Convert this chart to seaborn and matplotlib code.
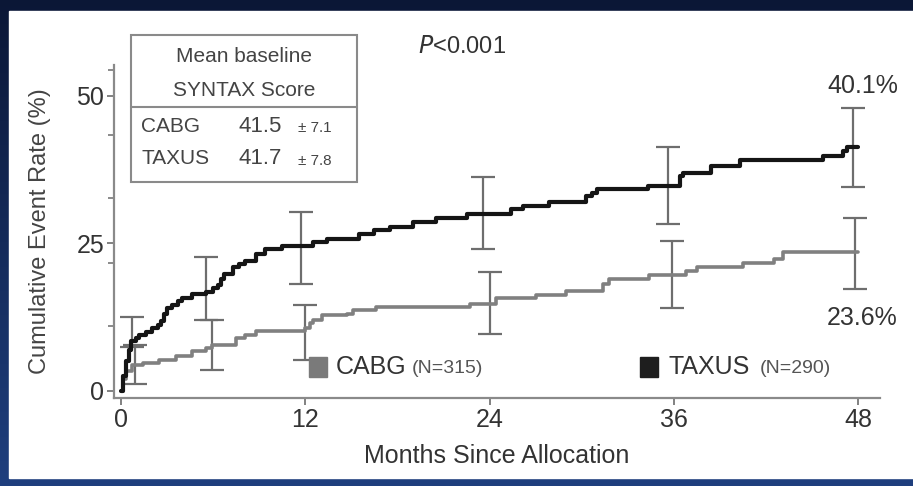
import numpy as np
import pandas as pd
import matplotlib
matplotlib.use("Agg")
import matplotlib.pyplot as plt
from matplotlib.patches import Rectangle
import seaborn as sns

# Kaplan-Meier style step curves (month where the step starts, cumulative event rate %)
taxus_months = [0, 0.15, 0.3, 0.5, 0.65, 1.0, 1.2, 1.6, 2.0, 2.4, 2.6, 2.8, 3.0, 3.3, 3.7,
                4.0, 4.6, 5.5, 6.0, 6.3, 6.5, 6.7, 7.3, 7.7, 8.1, 8.8, 9.4, 10.5, 12.5,
                13.4, 15.5, 16.5, 17.5, 19.0, 20.5, 22.5, 25.4, 26.2, 27.9, 30.3, 30.7,
                31.0, 34.3, 36.4, 36.6, 38.4, 40.3, 45.7, 47.0, 47.3, 48.0]
taxus_rate = [0, 2.5, 5.0, 7.0, 8.4, 9.0, 9.5, 10.0, 10.6, 11.2, 11.8, 13.0, 14.0, 14.6, 15.2,
              15.7, 16.5, 16.8, 17.4, 17.9, 19.0, 19.9, 21.0, 21.5, 22.1, 23.2, 24.1, 24.6, 25.2,
              25.8, 26.6, 27.2, 27.8, 28.6, 29.4, 30.0, 30.8, 31.4, 32.0, 33.1, 33.6,
              34.2, 34.8, 36.4, 37.0, 38.2, 39.2, 39.8, 40.6, 41.3, 41.3]

cabg_months = [0, 0.15, 0.3, 0.7, 1.4, 2.5, 3.6, 4.6, 5.5, 5.9, 7.5, 8.1, 8.8, 12.0, 12.3,
               12.5, 13.1, 14.7, 15.1, 16.6, 22.7, 24.4, 27.0, 29.0, 31.4, 31.8, 34.4,
               36.8, 37.5, 40.5, 42.5, 43.1, 48.0]
cabg_rate = [0, 2.0, 3.4, 4.4, 4.7, 5.3, 5.9, 6.7, 7.2, 7.8, 8.9, 9.5, 10.1, 10.6, 11.5,
             12.0, 12.8, 13.1, 13.7, 14.3, 14.8, 15.8, 16.3, 17.0, 18.2, 19.0, 19.7,
             20.4, 21.0, 21.7, 22.4, 23.5, 23.5]

# confidence bars
taxus_bar_months = [0.7, 5.5, 11.7, 23.6, 35.6, 47.7]
taxus_bar_low = [7.5, 12.0, 18.2, 24.0, 28.3, 34.5]
taxus_bar_high = [12.5, 22.7, 30.3, 36.2, 41.4, 47.9]
cabg_bar_months = [0.9, 5.9, 12.0, 24.0, 35.9, 47.8]
cabg_bar_low = [1.1, 3.5, 5.3, 9.6, 14.1, 17.3]
cabg_bar_high = [7.8, 12.0, 14.5, 20.2, 25.5, 29.3]

x_ticks = [0, 12, 24, 36, 48]
y_ticks = [0, 25, 50]
y_minor = [11, 21.7, 32.7, 43.4, 54.4]

W, H = 913, 486
def fx(x):
    return x / W
def fy(y):
    return 1 - y / H

sns.set_style("ticks")
plt.rcParams["font.family"] = ["Liberation Sans", "DejaVu Sans"]

fig = plt.figure(figsize=(W / 100, H / 100), dpi=100)

# dark blue slide frame with a gradient, white panel on top
bg = fig.add_axes([0, 0, 1, 1], zorder=-10)
grad = np.linspace(0, 1, 256).reshape(-1, 1)
cmap = matplotlib.colors.LinearSegmentedColormap.from_list("frame", ["#0b1736", "#1f3f7e"])
bg.imshow(grad, aspect="auto", cmap=cmap, extent=[0, 1, 0, 1], origin="upper")
bg.add_patch(Rectangle((fx(9), fy(478)), 1, (478 - 11) / H, color="white",
                       transform=bg.transAxes))
bg.set_axis_off()

ax = fig.add_axes([fx(114), fy(398), fx(880) - fx(114), fy(65) - fy(398)])
ax.set_facecolor("none")

taxus = pd.DataFrame({"month": taxus_months, "rate": taxus_rate})
cabg = pd.DataFrame({"month": cabg_months, "rate": cabg_rate})

for months, low, high in [(cabg_bar_months, cabg_bar_low, cabg_bar_high),
                          (taxus_bar_months, taxus_bar_low, taxus_bar_high)]:
    low = np.array(low)
    high = np.array(high)
    mid = (low + high) / 2
    ax.errorbar(months, mid, yerr=(high - low) / 2, fmt="none", ecolor="#6e6e6e",
                elinewidth=1.6, capsize=8.5, capthick=1.6, zorder=2)

sns.lineplot(data=cabg, x="month", y="rate", ax=ax, color="#808080", linewidth=2.6,
             drawstyle="steps-post", estimator=None, zorder=3)
sns.lineplot(data=taxus, x="month", y="rate", ax=ax, color="#151515", linewidth=3,
             drawstyle="steps-post", estimator=None, zorder=4)

ax.set_xlim(-0.46, 49.43)
ax.set_ylim(-1.19, 55.25)
ax.set_xticks(x_ticks)
ax.set_yticks(y_ticks)
ax.set_yticks(y_minor, minor=True)
ax.tick_params(axis="both", which="major", length=5, width=1.3, color="#777777",
               labelsize=18, labelcolor="#333333", pad=2)
ax.tick_params(axis="y", which="minor", length=4, width=1.2, color="#777777")
for side in ["left", "bottom"]:
    ax.spines[side].set_color("#8a8a8a")
    ax.spines[side].set_linewidth(1.6)
sns.despine(ax=ax)
ax.set_xlabel("Months Since Allocation", fontsize=18, color="#333333", labelpad=9)
ax.set_ylabel("Cumulative Event Rate (%)", fontsize=17, color="#444444", labelpad=18)

txt = "#333333"
fig.text(fx(418), fy(47), r"$\mathit{P}$<0.001", fontsize=17, color=txt, va="center")
fig.text(fx(863), fy(86), "40.1%", fontsize=18, color=txt, ha="center", va="center")
fig.text(fx(862), fy(318), "23.6%", fontsize=18, color=txt, ha="center", va="center")

# SYNTAX score box
fig.add_artist(Rectangle((fx(131), fy(182)), fx(357) - fx(131), fy(35) - fy(182),
                         fill=False, edgecolor="#8a8a8a", linewidth=1.5))
fig.add_artist(plt.Line2D([fx(131), fx(357)], [fy(107), fy(107)], color="#8a8a8a",
                          linewidth=1.5))
fig.text(fx(244), fy(56), "Mean baseline", fontsize=15, color="#444444", ha="center",
         va="center")
fig.text(fx(244), fy(90), "SYNTAX Score", fontsize=15, color="#444444", ha="center",
         va="center")
fig.text(fx(141), fy(126), "CABG", fontsize=15, color="#444444", va="center")
fig.text(fx(141), fy(159), "TAXUS", fontsize=15, color="#444444", va="center")
fig.text(fx(238), fy(126), "41.5", fontsize=16, color="#444444", va="center")
fig.text(fx(238), fy(159), "41.7", fontsize=16, color="#444444", va="center")
fig.text(fx(298), fy(128), "± 7.1", fontsize=11, color="#444444", va="center")
fig.text(fx(298), fy(161), "± 7.8", fontsize=11, color="#444444", va="center")

# legend
fig.add_artist(Rectangle((fx(309), fy(377)), fx(18), fy(357) - fy(377), color="#7a7a7a"))
fig.add_artist(Rectangle((fx(640), fy(377)), fx(18), fy(357) - fy(377), color="#1e1e1e"))
fig.text(fx(336), fy(367), "CABG", fontsize=18, color=txt, va="center")
fig.text(fx(412), fy(368), "(N=315)", fontsize=14, color="#555555", va="center")
fig.text(fx(668), fy(367), "TAXUS", fontsize=18, color=txt, va="center")
fig.text(fx(760), fy(368), "(N=290)", fontsize=14, color="#555555", va="center")

fig.savefig("out.png", dpi=100)
